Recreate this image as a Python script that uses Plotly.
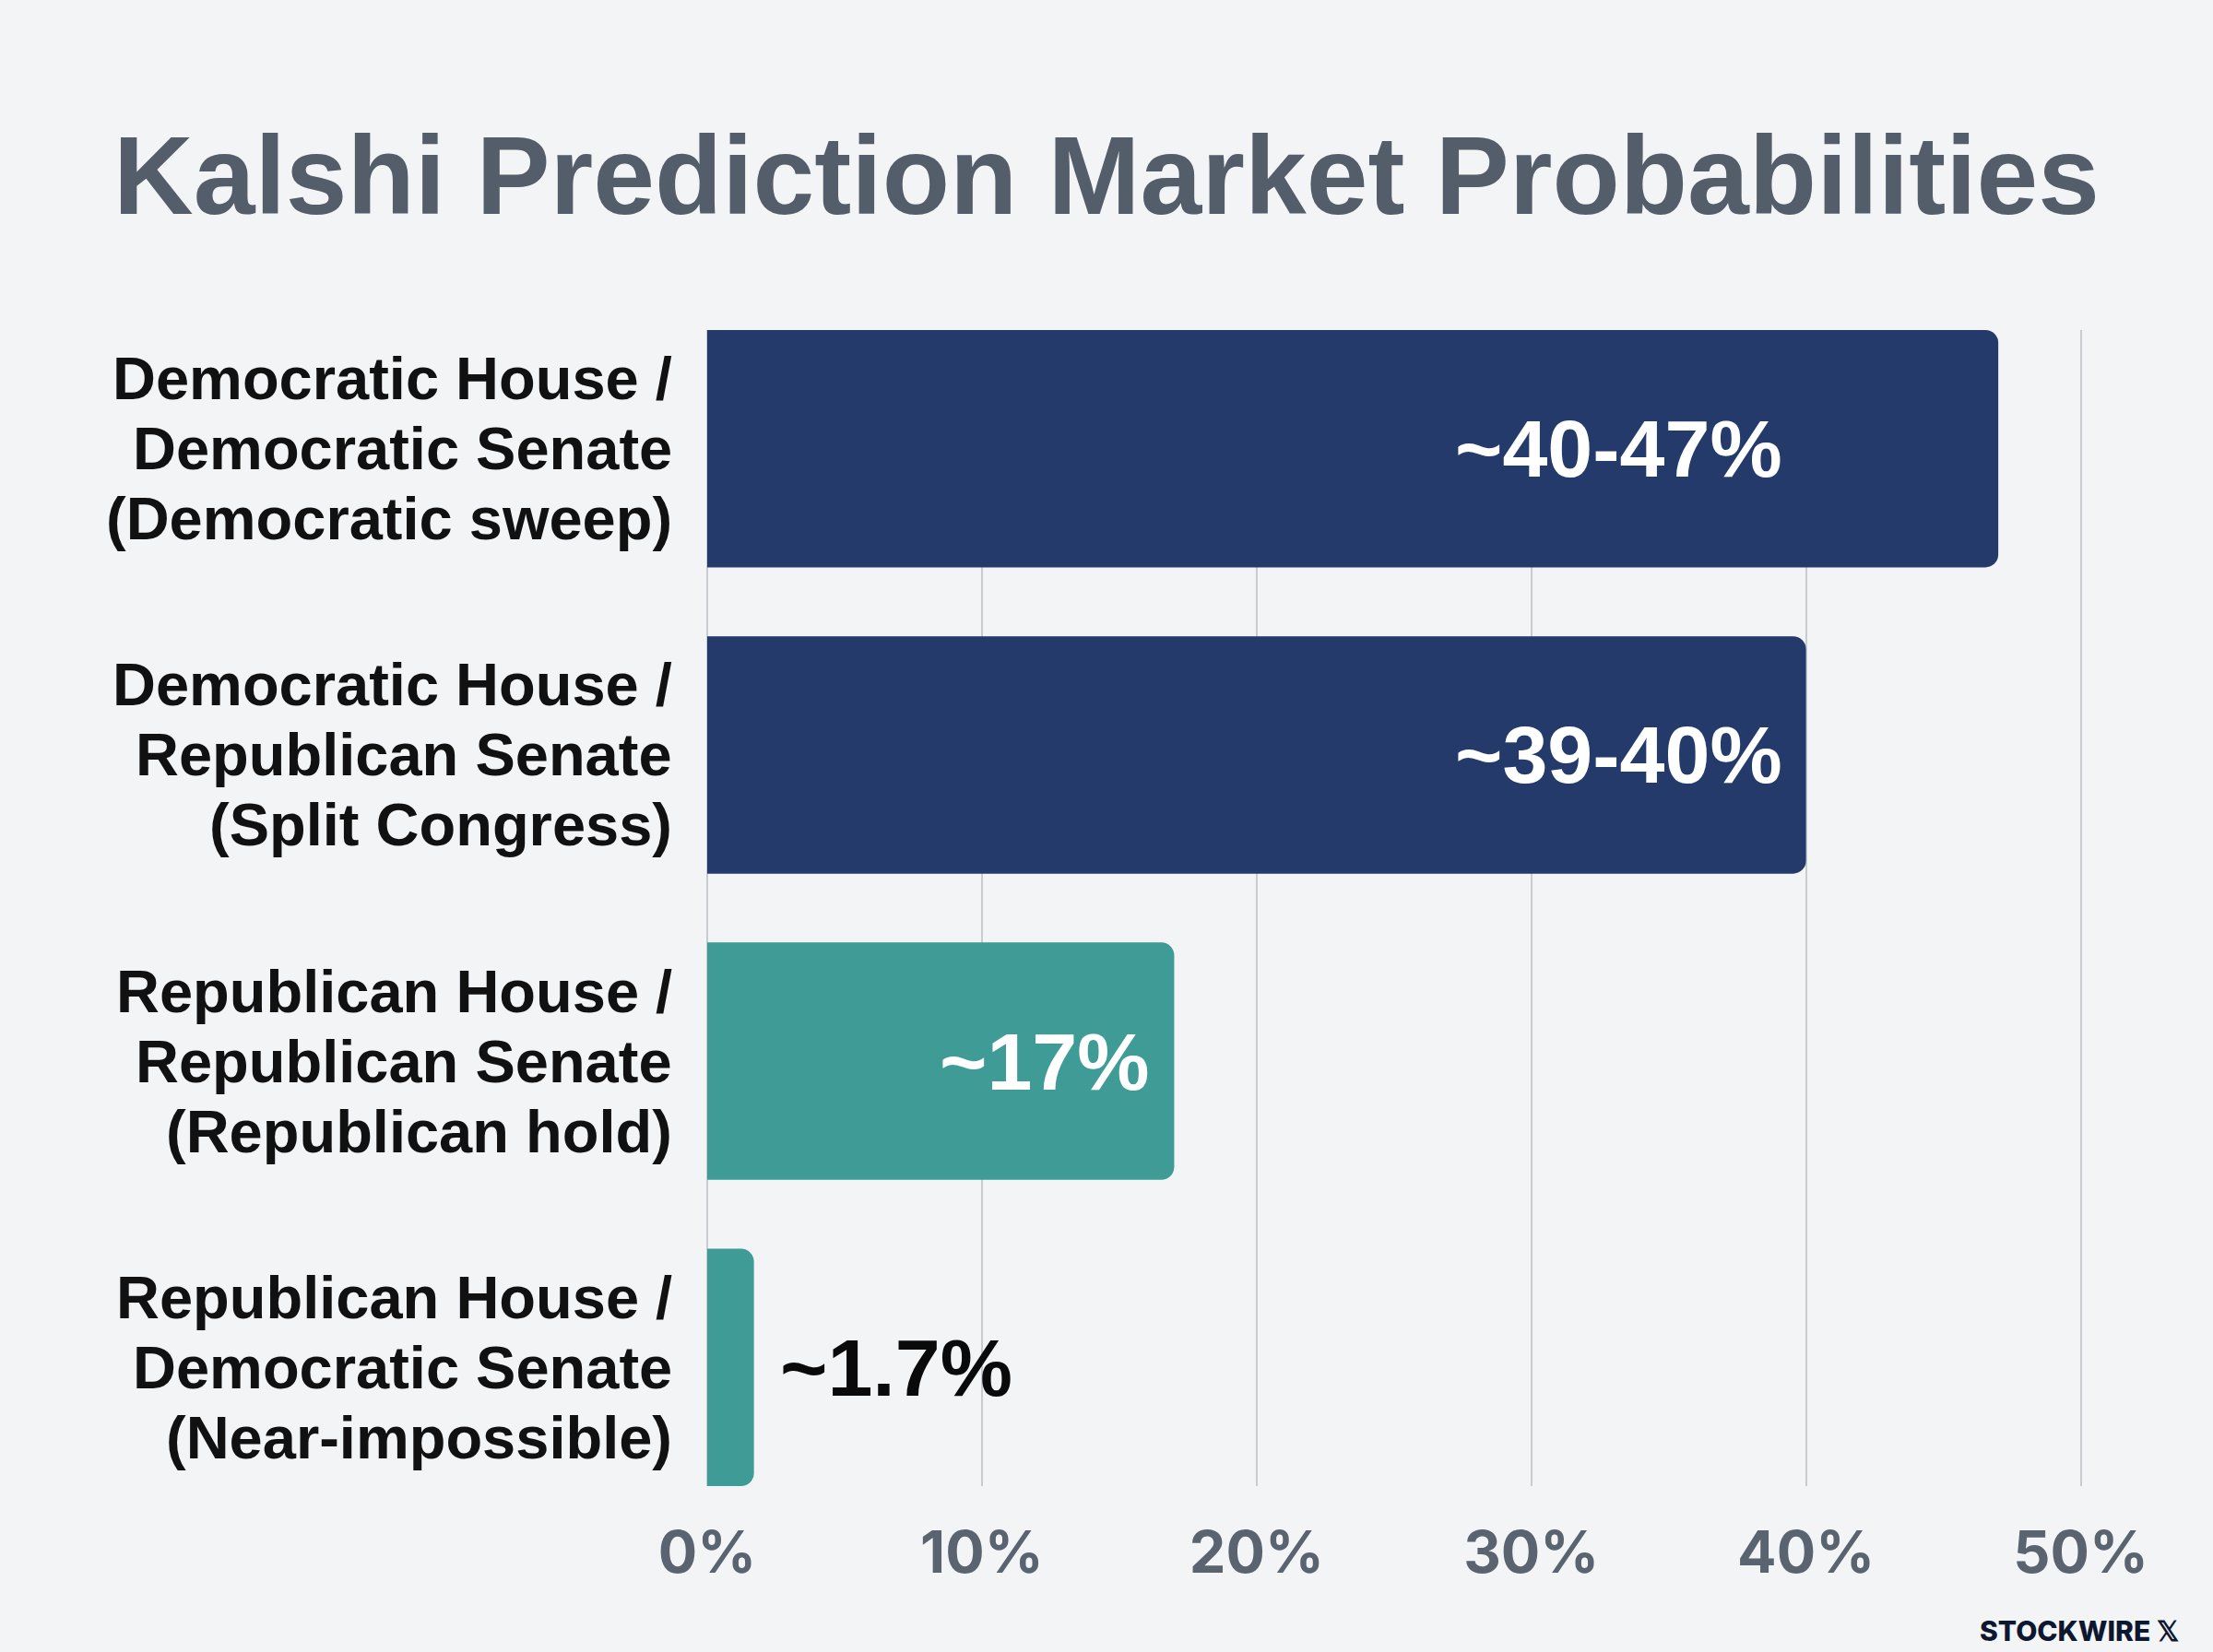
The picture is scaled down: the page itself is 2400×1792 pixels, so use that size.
import plotly.graph_objects as go

# ---- data ----
categories = [
    ["Democratic House /", "Democratic Senate", "(Democratic sweep)"],
    ["Democratic House /", "Republican Senate", "(Split Congress)"],
    ["Republican House /", "Republican Senate", "(Republican hold)"],
    ["Republican House /", "Democratic Senate", "(Near-impossible)"],
]
values = [47, 40, 17, 1.7]
value_labels = ["~40-47%", "~39-40%", "~17%", "~1.7%"]
label_anchor = [40, 40, 17, 1.7]
label_inside = [True, True, True, False]
bar_colors = ["#243a6b", "#243a6b", "#3e9b95", "#3e9b95"]
tick_vals = [0, 10, 20, 30, 40, 50]
tick_text = ["0%", "10%", "20%", "30%", "40%", "50%"]
title_text = "Kalshi Prediction Market Probabilities"
brand_text = "STOCKWIRE 𝕏"

cat_keys = [" ".join(c) for c in categories]

fig = go.Figure()
fig.add_trace(go.Bar(
    y=cat_keys, x=values, orientation="h",
    marker=dict(color=bar_colors, cornerradius=14, line=dict(width=0)),
    hoverinfo="skip",
))

annotations = []
# category labels (one annotation per line for tighter line spacing)
for key, lines in zip(cat_keys, categories):
    for j, line in enumerate(lines):
        annotations.append(dict(
            x=0, y=key, xref="x", yref="y", text=line, showarrow=False,
            xanchor="right", yanchor="middle", xshift=-36, yshift=(1 - j) * 76,
            font=dict(family="Liberation Sans, Arial, sans-serif", size=65, color="#111111", weight=700),
        ))
# value labels
for key, xv, txt, inside in zip(cat_keys, label_anchor, value_labels, label_inside):
    annotations.append(dict(
        x=xv, y=key, xref="x", yref="y", text=txt, showarrow=False,
        xanchor="right" if inside else "left", yanchor="middle",
        xshift=-24 if inside else 26,
        font=dict(family="Liberation Sans, Arial, sans-serif", size=88,
                  color="#ffffff" if inside else "#0a0a0a", weight=700),
    ))
# brand
annotations.append(dict(
    x=1.072, y=0.0, xref="paper", yref="paper", text=brand_text, showarrow=False,
    xanchor="right", yanchor="middle", yshift=-157,
    font=dict(family="Inter, Open Sans, sans-serif", size=30, color="#0d1730", weight=800),
))

fig.update_layout(
    width=2400, height=1792,
    paper_bgcolor="#f3f4f6", plot_bgcolor="#f3f4f6",
    margin=dict(l=767, r=142, t=358, b=180),
    bargap=0.225,
    showlegend=False,
    title=dict(
        text=title_text, x=0.5, xanchor="center", y=1 - 190 / 1792, yanchor="middle",
        font=dict(family="Liberation Sans, Arial, sans-serif", size=120, color="#545e6b", weight=700),
    ),
    xaxis=dict(
        range=[0, 50.05], tickvals=tick_vals, ticktext=tick_text,
        showgrid=True, gridcolor="#c8cbd0", gridwidth=2,
        zeroline=True, zerolinecolor="#c8cbd0", zerolinewidth=2,
        showline=False, ticks="", ticklabelstandoff=30,
        tickfont=dict(family="Inter, Open Sans, sans-serif", size=63, color="#5a6470", weight=700),
        fixedrange=True,
    ),
    yaxis=dict(
        categoryorder="array", categoryarray=cat_keys,
        range=[3.3875, -0.3875], showticklabels=False, showgrid=False,
        zeroline=False, showline=False, fixedrange=True,
    ),
    annotations=annotations,
)

fig.write_html(
    "out.html",
    config={"displayModeBar": False},
    post_script="document.body.style.margin='0';document.body.style.overflow='hidden';",
)
